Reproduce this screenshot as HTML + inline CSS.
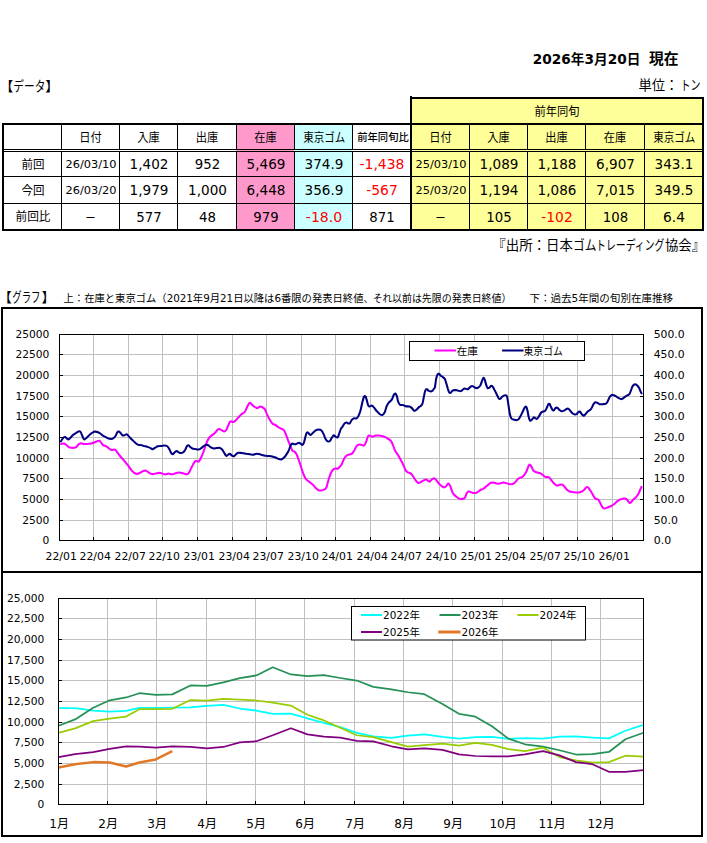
<!DOCTYPE html>
<html lang="ja"><head><meta charset="utf-8"><title>在庫データ</title>
<style>
html,body{margin:0;padding:0;background:#fff;}
svg{display:block;}
text{font-family:"DejaVu Sans","Liberation Sans","Noto Sans CJK JP",sans-serif;}
</style></head>
<body>
<svg role="img" aria-label="在庫データとグラフ" width="707" height="843" viewBox="0 0 707 843">
<rect width="707" height="843" fill="#fff"/>
<text y="63.6" font-size="13.33" font-weight="bold"><tspan x="532.8" textLength="112.4" lengthAdjust="spacingAndGlyphs">2026年3月20日 </tspan><tspan x="649" textLength="29.5" lengthAdjust="spacingAndGlyphs" font-size="14.67">現在</tspan></text>
<text y="89.5" font-size="13.33"><tspan x="638.4">単位：</tspan><tspan x="680.5" textLength="20" lengthAdjust="spacingAndGlyphs">トン</tspan></text>
<text y="90.5" font-size="13.33"><tspan x="0">【</tspan><tspan x="13.3" textLength="32" lengthAdjust="spacingAndGlyphs">データ</tspan><tspan x="45.3">】</tspan></text>
<text y="249.5" font-size="13.33"><tspan x="492.3" textLength="80.5" lengthAdjust="spacingAndGlyphs">『出所：日本</tspan><tspan x="573" textLength="23.5" lengthAdjust="spacingAndGlyphs">ゴム</tspan><tspan x="596" textLength="68.5" lengthAdjust="spacingAndGlyphs">トレーディング</tspan><tspan x="665">協会』</tspan></text>
<g id="data-table">
<rect x="410" y="97" width="294" height="134" fill="#FFFF99"/>
<rect x="236" y="123" width="58" height="108" fill="#FF99CC"/>
<rect x="294" y="123" width="58" height="108" fill="#CCFFFF"/>
<rect x="2" y="123" width="702" height="2" fill="#000"/>
<rect x="2" y="229" width="702" height="2" fill="#000"/>
<rect x="2" y="123" width="2" height="108" fill="#000"/>
<rect x="702" y="97" width="2" height="134" fill="#000"/>
<rect x="410" y="96" width="2" height="135" fill="#000"/>
<rect x="410" y="97" width="294" height="2" fill="#000"/>
<rect x="4" y="149" width="698" height="1" fill="#000"/>
<rect x="4" y="151" width="698" height="1" fill="#000"/>
<rect x="4" y="176" width="698" height="1" fill="#000"/>
<rect x="4" y="203" width="698" height="1" fill="#000"/>
<rect x="61" y="125" width="1" height="104" fill="#000"/>
<rect x="119" y="125" width="1" height="104" fill="#000"/>
<rect x="177" y="125" width="1" height="104" fill="#000"/>
<rect x="236" y="125" width="1" height="104" fill="#000"/>
<rect x="294" y="125" width="1" height="104" fill="#000"/>
<rect x="352" y="125" width="1" height="104" fill="#000"/>
<rect x="469" y="125" width="1" height="104" fill="#000"/>
<rect x="527" y="125" width="1" height="104" fill="#000"/>
<rect x="585" y="125" width="1" height="104" fill="#000"/>
<rect x="644" y="125" width="1" height="104" fill="#000"/>
<rect x="4" y="150" width="232" height="1" fill="#fff"/>
<rect x="236" y="150" width="58" height="1" fill="#FF99CC"/>
<rect x="294" y="150" width="58" height="1" fill="#CCFFFF"/>
<rect x="352" y="150" width="58" height="1" fill="#fff"/>
<rect x="412" y="150" width="290" height="1" fill="#FFFF99"/>
<text x="90.5" y="142" font-size="12" text-anchor="middle" textLength="22.5" lengthAdjust="spacingAndGlyphs">日付</text>
<text x="148.5" y="142" font-size="12" text-anchor="middle" textLength="22.5" lengthAdjust="spacingAndGlyphs">入庫</text>
<text x="207" y="142" font-size="12" text-anchor="middle" textLength="22.5" lengthAdjust="spacingAndGlyphs">出庫</text>
<text x="265.5" y="142" font-size="12" text-anchor="middle" textLength="22.5" lengthAdjust="spacingAndGlyphs">在庫</text>
<text x="324.3" y="142" font-size="12" text-anchor="middle" textLength="42" lengthAdjust="spacingAndGlyphs">東京ゴム</text>
<text x="383.0" y="141" font-size="10.67" text-anchor="middle" font-weight="500" textLength="51.5" lengthAdjust="spacingAndGlyphs">前年同旬比</text>
<text x="440.5" y="142" font-size="12" text-anchor="middle" textLength="22.5" lengthAdjust="spacingAndGlyphs">日付</text>
<text x="498.5" y="142" font-size="12" text-anchor="middle" textLength="22.5" lengthAdjust="spacingAndGlyphs">入庫</text>
<text x="556.5" y="142" font-size="12" text-anchor="middle" textLength="22.5" lengthAdjust="spacingAndGlyphs">出庫</text>
<text x="615" y="142" font-size="12" text-anchor="middle" textLength="22.5" lengthAdjust="spacingAndGlyphs">在庫</text>
<text x="674.3" y="142" font-size="12" text-anchor="middle" textLength="42" lengthAdjust="spacingAndGlyphs">東京ゴム</text>
<text x="557" y="115.5" font-size="12" text-anchor="middle" textLength="45" lengthAdjust="spacingAndGlyphs">前年同旬</text>
<text x="33.0" y="168.5" font-size="12" text-anchor="middle" textLength="23" lengthAdjust="spacingAndGlyphs">前回</text>
<text x="91.0" y="168" font-size="10.67" text-anchor="middle" textLength="51" lengthAdjust="spacingAndGlyphs">26/03/10</text>
<text x="149.0" y="169" font-size="13.33" text-anchor="middle" textLength="38.8" lengthAdjust="spacingAndGlyphs">1,402</text>
<text x="207.5" y="169" font-size="13.33" text-anchor="middle" textLength="25.4" lengthAdjust="spacingAndGlyphs">952</text>
<text x="266.0" y="169" font-size="13.33" text-anchor="middle" textLength="38.8" lengthAdjust="spacingAndGlyphs">5,469</text>
<text x="324.0" y="169" font-size="13.33" text-anchor="middle" textLength="38.8" lengthAdjust="spacingAndGlyphs">374.9</text>
<text x="382.0" y="169" font-size="13.33" text-anchor="middle" fill="#FF0000" textLength="44.8" lengthAdjust="spacingAndGlyphs">-1,438</text>
<text x="441.0" y="168" font-size="10.67" text-anchor="middle" textLength="51" lengthAdjust="spacingAndGlyphs">25/03/10</text>
<text x="499.0" y="169" font-size="13.33" text-anchor="middle" textLength="38.8" lengthAdjust="spacingAndGlyphs">1,089</text>
<text x="557.0" y="169" font-size="13.33" text-anchor="middle" textLength="38.8" lengthAdjust="spacingAndGlyphs">1,188</text>
<text x="615.5" y="169" font-size="13.33" text-anchor="middle" textLength="38.8" lengthAdjust="spacingAndGlyphs">6,907</text>
<text x="674.0" y="169" font-size="13.33" text-anchor="middle" textLength="38.8" lengthAdjust="spacingAndGlyphs">343.1</text>
<text x="33.0" y="194.5" font-size="12" text-anchor="middle" textLength="23" lengthAdjust="spacingAndGlyphs">今回</text>
<text x="91.0" y="194" font-size="10.67" text-anchor="middle" textLength="51" lengthAdjust="spacingAndGlyphs">26/03/20</text>
<text x="149.0" y="195" font-size="13.33" text-anchor="middle" textLength="38.8" lengthAdjust="spacingAndGlyphs">1,979</text>
<text x="207.5" y="195" font-size="13.33" text-anchor="middle" textLength="38.8" lengthAdjust="spacingAndGlyphs">1,000</text>
<text x="266.0" y="195" font-size="13.33" text-anchor="middle" textLength="38.8" lengthAdjust="spacingAndGlyphs">6,448</text>
<text x="324.0" y="195" font-size="13.33" text-anchor="middle" textLength="38.8" lengthAdjust="spacingAndGlyphs">356.9</text>
<text x="382.0" y="195" font-size="13.33" text-anchor="middle" fill="#FF0000" textLength="31.5" lengthAdjust="spacingAndGlyphs">-567</text>
<text x="441.0" y="194" font-size="10.67" text-anchor="middle" textLength="51" lengthAdjust="spacingAndGlyphs">25/03/20</text>
<text x="499.0" y="195" font-size="13.33" text-anchor="middle" textLength="38.8" lengthAdjust="spacingAndGlyphs">1,194</text>
<text x="557.0" y="195" font-size="13.33" text-anchor="middle" textLength="38.8" lengthAdjust="spacingAndGlyphs">1,086</text>
<text x="615.5" y="195" font-size="13.33" text-anchor="middle" textLength="38.8" lengthAdjust="spacingAndGlyphs">7,015</text>
<text x="674.0" y="195" font-size="13.33" text-anchor="middle" textLength="38.8" lengthAdjust="spacingAndGlyphs">349.5</text>
<text x="33.0" y="221.0" font-size="12" text-anchor="middle" textLength="35" lengthAdjust="spacingAndGlyphs">前回比</text>
<text x="90.5" y="220.5" font-size="12" text-anchor="middle" textLength="10" lengthAdjust="spacingAndGlyphs">–</text>
<text x="149.0" y="221.5" font-size="13.33" text-anchor="middle" textLength="25.4" lengthAdjust="spacingAndGlyphs">577</text>
<text x="207.5" y="221.5" font-size="13.33" text-anchor="middle" textLength="17.0" lengthAdjust="spacingAndGlyphs">48</text>
<text x="266.0" y="221.5" font-size="13.33" text-anchor="middle" textLength="25.4" lengthAdjust="spacingAndGlyphs">979</text>
<text x="324.0" y="221.5" font-size="13.33" text-anchor="middle" fill="#FF0000" textLength="36.3" lengthAdjust="spacingAndGlyphs">-18.0</text>
<text x="382.0" y="221.5" font-size="13.33" text-anchor="middle" textLength="25.4" lengthAdjust="spacingAndGlyphs">871</text>
<text x="440.5" y="220.5" font-size="12" text-anchor="middle" textLength="10" lengthAdjust="spacingAndGlyphs">–</text>
<text x="499.0" y="221.5" font-size="13.33" text-anchor="middle" textLength="25.4" lengthAdjust="spacingAndGlyphs">105</text>
<text x="557.0" y="221.5" font-size="13.33" text-anchor="middle" fill="#FF0000" textLength="31.5" lengthAdjust="spacingAndGlyphs">-102</text>
<text x="615.5" y="221.5" font-size="13.33" text-anchor="middle" textLength="25.4" lengthAdjust="spacingAndGlyphs">108</text>
<text x="674.0" y="221.5" font-size="13.33" text-anchor="middle" textLength="21.8" lengthAdjust="spacingAndGlyphs">6.4</text>
</g>
<text y="302" font-size="13.33"><tspan x="-1.5">【</tspan><tspan x="12.3" textLength="28.2" lengthAdjust="spacingAndGlyphs">グラフ</tspan><tspan x="41.5">】</tspan></text>
<text y="301.5" font-size="10.67"><tspan x="63.5" textLength="300" lengthAdjust="spacingAndGlyphs">上：在庫と東京ゴム（2021年9月21日以降は6番限の発表日終値</tspan><tspan x="363.5" textLength="28.5" lengthAdjust="spacingAndGlyphs">、それ</tspan><tspan x="392" textLength="119.5" lengthAdjust="spacingAndGlyphs">以前は先限の発表日終値）</tspan></text>
<text x="529.5" y="301.5" font-size="10.67" text-anchor="start" textLength="143.5" lengthAdjust="spacingAndGlyphs">下：過去5年間の旬別在庫推移</text>
<rect x="1" y="307" width="702" height="2" fill="#000"/>
<rect x="1" y="835" width="702" height="2" fill="#000"/>
<rect x="1" y="307" width="2" height="530" fill="#000"/>
<rect x="701" y="307" width="2" height="530" fill="#000"/>
<rect x="1" y="571" width="702" height="2" fill="#000"/>
<g id="chart-top">
<rect x="59.5" y="354" width="584.0" height="1" fill="#C0C0C0"/>
<rect x="59.5" y="375" width="584.0" height="1" fill="#C0C0C0"/>
<rect x="59.5" y="396" width="584.0" height="1" fill="#C0C0C0"/>
<rect x="59.5" y="416" width="584.0" height="1" fill="#C0C0C0"/>
<rect x="59.5" y="437" width="584.0" height="1" fill="#C0C0C0"/>
<rect x="59.5" y="458" width="584.0" height="1" fill="#C0C0C0"/>
<rect x="59.5" y="478" width="584.0" height="1" fill="#C0C0C0"/>
<rect x="59.5" y="499" width="584.0" height="1" fill="#C0C0C0"/>
<rect x="59.5" y="520" width="584.0" height="1" fill="#C0C0C0"/>
<rect x="93" y="334.5" width="1" height="206.0" fill="#C0C0C0"/>
<rect x="128" y="334.5" width="1" height="206.0" fill="#C0C0C0"/>
<rect x="162" y="334.5" width="1" height="206.0" fill="#C0C0C0"/>
<rect x="197" y="334.5" width="1" height="206.0" fill="#C0C0C0"/>
<rect x="232" y="334.5" width="1" height="206.0" fill="#C0C0C0"/>
<rect x="266" y="334.5" width="1" height="206.0" fill="#C0C0C0"/>
<rect x="301" y="334.5" width="1" height="206.0" fill="#C0C0C0"/>
<rect x="335" y="334.5" width="1" height="206.0" fill="#C0C0C0"/>
<rect x="370" y="334.5" width="1" height="206.0" fill="#C0C0C0"/>
<rect x="404" y="334.5" width="1" height="206.0" fill="#C0C0C0"/>
<rect x="439" y="334.5" width="1" height="206.0" fill="#C0C0C0"/>
<rect x="474" y="334.5" width="1" height="206.0" fill="#C0C0C0"/>
<rect x="508" y="334.5" width="1" height="206.0" fill="#C0C0C0"/>
<rect x="543" y="334.5" width="1" height="206.0" fill="#C0C0C0"/>
<rect x="577" y="334.5" width="1" height="206.0" fill="#C0C0C0"/>
<rect x="612" y="334.5" width="1" height="206.0" fill="#C0C0C0"/>
<path d="M60.94,443.95C61.4,443.9 62.7,443.4 63.5,443.5C64.3,443.6 64.8,443.8 65.6,444.4C66.4,444.9 67.5,446.2 68.4,446.8C69.4,447.3 70.3,447.6 71.3,447.8C72.2,447.9 73.3,447.9 74.1,447.8C74.9,447.7 75.5,447.6 76.2,447.1C76.9,446.5 77.6,445.3 78.3,444.6C79.0,444.0 79.6,443.4 80.5,443.2C81.3,443.1 82.3,443.8 83.3,443.9C84.2,444.1 85.2,444.0 86.1,443.9C87.1,443.9 88.0,443.8 89.0,443.7C89.9,443.6 90.8,443.6 91.8,443.4C92.7,443.1 93.7,442.6 94.6,442.2C95.5,441.9 96.6,441.4 97.4,441.1C98.3,440.9 99.0,440.5 99.5,440.7C100.1,440.9 100.4,441.8 101.0,442.5C101.6,443.3 102.3,444.5 103.1,445.1C103.9,445.7 105.0,445.6 105.9,446.1C106.9,446.6 107.8,447.5 108.8,448.2C109.7,448.9 110.5,449.8 111.6,450.0C112.6,450.3 114.2,449.2 115.1,449.6C116.1,450.0 116.4,451.4 117.2,452.4C118.1,453.5 119.1,454.8 120.1,456.0C121.0,457.1 121.9,458.1 122.9,459.2C123.8,460.3 124.8,461.5 125.7,462.6C126.7,463.8 127.6,464.9 128.6,466.1C129.5,467.4 130.4,469.0 131.4,470.1C132.3,471.2 133.3,472.3 134.2,472.9C135.2,473.6 136.1,473.9 137.0,473.9C138.0,473.9 138.9,473.4 139.9,472.9C140.8,472.5 141.7,471.6 142.7,471.2C143.6,470.8 144.6,470.4 145.5,470.5C146.5,470.7 147.4,471.7 148.3,472.2C149.3,472.8 150.4,473.6 151.2,473.9C151.9,474.2 152.1,474.2 152.8,474.1C153.6,474.1 154.5,473.8 155.7,473.6C156.8,473.3 158.7,472.8 159.9,472.8C161.1,472.9 161.8,473.6 162.7,473.8C163.7,474.1 164.6,474.4 165.6,474.4C166.5,474.4 167.2,473.6 168.4,473.6C169.6,473.5 171.3,474.4 172.6,474.3C173.9,474.2 175.0,473.3 176.2,473.0C177.3,472.7 178.5,472.5 179.7,472.6C180.9,472.6 182.1,473.0 183.2,473.3C184.4,473.6 185.8,474.3 186.8,474.3C187.7,474.2 188.2,473.8 188.9,472.8C189.6,471.9 190.3,470.0 191.0,468.6C191.7,467.2 192.4,465.6 193.1,464.4C193.8,463.1 194.6,461.6 195.3,461.1C196.0,460.6 196.8,461.2 197.4,461.2C198.0,461.3 198.2,462.1 198.8,461.5C199.4,461.0 200.2,459.4 200.9,458.0C201.6,456.6 202.3,454.9 203.0,453.0C203.7,451.2 204.5,448.7 205.2,446.7C205.9,444.7 206.6,442.6 207.3,441.0C208.0,439.5 208.6,438.5 209.4,437.5C210.2,436.5 211.3,435.9 212.2,435.1C213.2,434.3 214.1,433.8 215.1,432.8C216.0,431.9 217.2,430.1 217.9,429.4C218.6,428.8 218.7,428.9 219.3,429.0C219.9,429.1 220.6,429.7 221.4,430.1C222.3,430.5 223.4,431.5 224.3,431.4C225.1,431.3 225.7,430.8 226.4,429.7C227.1,428.6 227.9,426.0 228.5,424.8C229.1,423.5 229.4,422.5 229.9,421.9C230.4,421.3 230.7,421.2 231.3,421.2C231.9,421.2 232.6,422.2 233.4,421.9C234.3,421.7 235.3,420.7 236.3,419.8C237.2,418.9 238.2,417.7 239.1,416.7C240.1,415.7 241.0,414.6 241.9,413.9C242.9,413.1 243.9,413.2 244.8,412.0C245.6,410.9 246.4,408.5 247.1,407.0C247.9,405.5 248.7,403.8 249.2,403.2C249.8,402.6 250.1,402.8 250.7,403.2C251.2,403.6 252.0,404.9 252.8,405.6C253.6,406.3 254.8,407.1 255.6,407.4C256.4,407.8 257.0,408.2 257.7,408.0C258.4,407.9 259.1,406.8 259.9,406.6C260.6,406.4 261.1,406.6 262.0,407.0C262.8,407.4 264.0,408.0 264.8,409.1C265.6,410.3 266.1,412.3 266.9,414.1C267.7,415.9 268.8,418.1 269.8,419.8C270.7,421.4 271.6,422.8 272.6,423.7C273.5,424.6 274.3,424.4 275.4,425.0C276.5,425.6 277.9,426.9 278.9,427.5C280.0,428.2 281.0,428.5 281.8,428.9C282.6,429.4 283.2,429.1 283.9,430.1C284.6,431.0 285.3,432.9 286.0,434.6C286.7,436.3 287.4,438.4 288.1,440.3C288.8,442.1 289.6,444.2 290.3,445.9C291.0,447.6 291.7,449.6 292.4,450.6C293.1,451.5 293.8,450.9 294.5,451.6C295.2,452.2 295.9,453.0 296.6,454.4C297.3,455.8 298.0,458.1 298.8,460.1C299.5,462.1 300.2,464.3 300.9,466.4C301.6,468.6 302.3,470.9 303.0,472.8C303.7,474.7 304.4,476.5 305.1,477.7C305.8,479.0 306.4,479.5 307.2,480.3C308.1,481.1 309.1,481.7 310.1,482.4C311.0,483.2 311.9,483.9 312.9,484.8C313.8,485.7 314.8,487.0 315.7,487.9C316.7,488.8 317.6,489.8 318.6,490.2C319.5,490.6 320.4,490.6 321.4,490.5C322.3,490.4 323.4,490.0 324.2,489.5C325.0,489.0 325.7,488.8 326.3,487.6C326.9,486.5 327.1,484.7 327.7,482.7C328.3,480.7 329.2,477.6 329.9,475.6C330.6,473.7 331.3,472.2 332.0,471.1C332.7,470.0 333.4,469.3 334.1,468.8C334.8,468.4 335.5,468.6 336.2,468.6C336.9,468.5 337.5,468.9 338.4,468.3C339.2,467.7 340.6,465.8 341.2,465.0C341.8,464.2 341.6,464.6 342.1,463.5C342.6,462.4 343.5,459.8 344.2,458.6C344.9,457.3 345.5,456.4 346.4,455.7C347.2,455.1 348.2,454.9 349.2,454.6C350.1,454.2 351.2,454.2 352.0,453.6C352.8,453.0 353.4,451.9 354.1,450.8C354.8,449.6 355.6,447.5 356.3,446.5C357.0,445.5 357.6,445.0 358.4,444.7C359.2,444.4 360.3,444.5 361.2,444.7C362.2,444.8 363.2,446.1 364.1,445.5C364.9,445.0 365.6,443.0 366.2,441.6C366.8,440.2 367.1,438.1 367.6,437.1C368.1,436.0 368.5,435.7 369.0,435.5C369.5,435.3 369.8,435.7 370.4,435.9C371.0,436.1 371.7,436.7 372.5,436.6C373.4,436.6 374.4,435.7 375.4,435.5C376.3,435.3 377.1,435.4 378.2,435.5C379.3,435.6 380.6,435.7 381.7,435.9C382.9,436.2 384.2,436.6 385.3,437.1C386.3,437.5 387.1,438.1 388.1,438.8C389.0,439.4 390.1,439.8 390.9,440.9C391.7,441.9 392.3,443.5 393.0,445.1C393.7,446.8 394.3,449.1 395.2,450.8C396.0,452.4 397.0,453.5 398.0,455.0C398.9,456.5 399.9,458.2 400.8,460.0C401.8,461.7 402.8,463.9 403.6,465.6C404.5,467.4 405.1,469.5 405.8,470.6C406.5,471.7 407.2,471.9 407.9,472.3C408.6,472.7 409.3,472.6 410.0,473.0C410.7,473.4 411.4,473.9 412.1,474.8C412.8,475.7 413.6,477.3 414.3,478.4C415.0,479.4 415.7,480.4 416.4,481.2C417.1,481.9 417.8,482.7 418.5,482.9C419.2,483.0 419.8,482.6 420.6,482.2C421.4,481.8 422.5,480.9 423.4,480.5C424.4,480.0 425.3,479.3 426.3,479.5C427.2,479.7 428.3,481.5 429.1,481.6C429.9,481.7 430.5,480.6 431.2,480.1C431.9,479.5 432.7,478.6 433.4,478.4C434.0,478.1 434.4,478.2 435.0,478.7C435.6,479.2 436.4,480.2 437.1,481.1C437.8,482.0 438.4,483.1 439.2,483.9C440.1,484.8 441.2,485.9 442.1,486.5C443.0,487.0 443.9,487.3 444.6,487.2C445.3,487.1 445.8,486.6 446.3,486.1C446.8,485.5 447.3,484.4 447.7,483.9C448.2,483.5 448.4,483.3 448.9,483.7C449.3,484.0 449.8,485.0 450.3,486.1C450.8,487.2 451.2,489.0 451.7,490.3C452.2,491.6 452.8,492.9 453.4,493.9C454.0,494.8 454.7,495.3 455.5,496.0C456.3,496.7 457.4,497.6 458.3,498.1C459.3,498.6 460.2,499.0 461.2,499.1C462.1,499.1 463.3,498.9 464.0,498.5C464.7,498.1 464.9,497.6 465.4,496.7C465.9,495.8 466.3,494.0 466.8,493.1C467.4,492.3 468.1,491.7 468.7,491.4C469.2,491.2 469.6,491.6 470.4,491.9C471.1,492.1 472.2,492.7 473.2,492.9C474.1,493.0 475.2,493.0 476.0,492.9C476.8,492.7 477.4,492.2 478.1,491.7C478.8,491.3 479.4,490.5 480.3,490.0C481.1,489.6 482.1,489.4 483.1,488.9C484.0,488.4 485.0,487.5 485.9,486.8C486.9,486.0 487.9,485.0 488.8,484.4C489.6,483.7 490.2,483.1 490.9,482.8C491.6,482.5 492.2,482.5 493.0,482.5C493.8,482.6 494.9,483.1 495.8,483.2C496.8,483.4 497.7,483.7 498.6,483.7C499.6,483.6 500.7,483.1 501.5,483.0C502.3,482.8 502.9,482.5 503.6,482.5C504.3,482.5 504.9,482.7 505.7,483.0C506.5,483.2 507.6,483.7 508.6,483.9C509.5,484.2 510.6,484.3 511.4,484.2C512.2,484.2 512.8,484.1 513.5,483.7C514.2,483.3 514.9,482.6 515.6,481.8C516.3,481.1 517.0,479.9 517.7,479.3C518.4,478.6 519.2,478.2 519.9,477.9C520.6,477.5 521.3,477.6 522.0,477.2C522.7,476.7 523.4,476.1 524.1,475.2C524.8,474.3 525.6,473.1 526.2,471.9C526.8,470.8 527.2,469.6 527.6,468.4C528.1,467.2 528.7,465.4 529.1,464.9C529.5,464.3 529.6,464.5 530.0,464.9C530.4,465.2 531.1,465.9 531.7,466.9C532.3,467.8 532.7,469.8 533.4,470.6C534.1,471.5 535.1,471.6 535.9,472.0C536.8,472.3 537.6,472.5 538.5,472.8C539.3,473.1 540.2,473.2 541.0,473.7C541.9,474.2 542.7,475.1 543.6,475.7C544.4,476.3 545.3,476.8 546.1,477.1C547.0,477.3 547.9,476.7 548.7,477.1C549.4,477.4 550.0,478.4 550.7,479.3C551.4,480.1 552.1,481.3 552.9,482.2C553.7,483.1 554.8,484.1 555.5,484.7C556.2,485.3 556.5,485.6 557.2,485.6C557.9,485.6 558.9,484.9 559.7,484.7C560.6,484.6 561.5,484.4 562.3,484.7C563.0,485.0 563.6,485.6 564.3,486.4C565.0,487.2 565.7,488.5 566.5,489.3C567.3,490.1 568.1,490.7 569.0,491.2C570.0,491.6 571.3,491.8 572.4,492.0C573.6,492.2 574.7,492.3 575.8,492.4C577.0,492.4 578.2,492.5 579.2,492.4C580.2,492.2 580.9,491.9 581.8,491.5C582.6,491.1 583.6,490.4 584.3,489.8C585.0,489.2 585.4,488.0 586.0,487.6C586.7,487.2 587.4,486.9 588.1,487.3C588.7,487.6 589.1,488.8 589.8,489.8C590.4,490.8 591.2,492.0 592.0,493.2C592.7,494.4 593.5,496.1 594.2,497.1C594.9,498.1 595.5,498.7 596.2,499.1C596.9,499.5 597.6,498.9 598.2,499.5C598.9,500.0 599.3,501.3 600.0,502.5C600.6,503.8 601.5,505.8 602.2,506.8C602.9,507.8 603.3,508.3 604.2,508.5C605.0,508.6 606.2,508.0 607.2,507.6C608.3,507.3 609.5,506.8 610.6,506.3C611.8,505.7 612.9,505.1 614.0,504.2C615.2,503.4 616.3,502.0 617.4,501.2C618.6,500.3 619.8,499.6 620.8,499.1C621.8,498.7 622.5,498.7 623.4,498.6C624.2,498.6 625.2,498.5 625.9,498.8C626.6,499.1 627.0,499.8 627.6,500.5C628.2,501.2 629.0,502.7 629.7,502.9C630.3,503.1 630.9,502.3 631.5,501.7C632.2,501.1 632.8,499.9 633.6,499.1C634.3,498.4 635.3,498.0 636.1,497.1C636.9,496.3 637.7,495.2 638.3,494.1C639.0,492.9 639.5,491.3 640.0,490.1C640.6,489.0 641.3,487.5 641.5,486.9" fill="none" stroke="#FF00FF" stroke-width="2.05" stroke-linejoin="round" stroke-linecap="round"/>
<path d="M60.94,441.4C61.2,440.9 62.2,439.0 62.8,438.3C63.4,437.5 64.0,436.9 64.6,436.9C65.2,436.8 65.7,437.6 66.3,438.0C67.0,438.4 67.7,439.5 68.4,439.4C69.1,439.3 69.9,438.3 70.6,437.6C71.3,436.9 71.9,435.9 72.7,435.2C73.5,434.5 74.6,433.9 75.5,433.3C76.5,432.8 77.6,431.9 78.3,431.6C79.1,431.3 79.6,431.1 80.2,431.5C80.7,431.9 81.1,432.9 81.6,434.1C82.1,435.2 82.8,437.4 83.3,438.3C83.8,439.2 84.1,439.5 84.7,439.4C85.3,439.3 86.0,438.4 86.8,437.6C87.6,436.8 88.7,435.6 89.7,434.8C90.6,433.9 91.5,433.1 92.5,432.6C93.4,432.1 94.4,431.7 95.3,431.6C96.3,431.6 97.2,431.8 98.1,432.2C99.1,432.6 100.0,433.4 101.0,434.1C101.9,434.7 102.7,435.5 103.8,436.2C104.9,436.8 106.2,437.5 107.3,438.0C108.5,438.5 109.8,439.0 110.9,439.0C111.9,439.0 112.9,438.6 113.7,438.0C114.5,437.4 115.2,436.4 115.8,435.5C116.4,434.5 116.7,433.0 117.2,432.4C117.7,431.7 118.3,431.3 118.9,431.5C119.5,431.7 120.2,432.7 120.8,433.3C121.4,434.0 122.0,435.2 122.6,435.5C123.2,435.8 124.0,435.4 124.6,435.2C125.2,435.0 125.9,434.3 126.4,434.3C127.0,434.3 127.3,434.6 127.8,435.2C128.4,435.7 129.1,436.7 130.0,437.6C130.8,438.5 131.8,439.5 132.8,440.4C133.7,441.3 134.8,442.3 135.6,443.0C136.4,443.7 136.9,444.3 137.7,444.6C138.6,445.0 139.5,444.8 140.6,445.1C141.6,445.3 142.8,445.7 144.1,446.1C145.4,446.4 147.2,446.7 148.3,447.1C149.5,447.5 150.4,448.1 151.2,448.5C151.9,448.8 152.1,449.4 152.8,449.2C153.6,449.0 154.8,447.9 155.7,447.4C156.5,446.9 156.8,446.5 157.8,446.2C158.7,446.0 160.3,446.1 161.3,446.0C162.4,445.8 163.2,445.4 164.1,445.4C165.1,445.4 166.1,445.4 167.0,446.0C167.8,446.5 168.4,447.6 169.1,448.8C169.8,450.0 170.6,452.1 171.2,453.0C171.9,453.9 172.3,454.3 172.9,454.2C173.5,454.1 174.1,452.9 174.8,452.3C175.4,451.8 176.0,451.0 176.6,450.9C177.2,450.9 177.7,451.7 178.3,452.1C178.9,452.4 179.6,453.0 180.4,453.0C181.2,453.1 182.4,452.9 183.2,452.3C184.1,451.7 184.7,450.6 185.4,449.5C186.0,448.4 186.5,446.7 187.1,446.0C187.6,445.3 187.9,445.1 188.5,445.3C189.0,445.4 189.7,446.4 190.3,447.0C191.0,447.5 191.6,448.2 192.4,448.5C193.3,448.9 194.2,448.9 195.3,449.1C196.3,449.2 197.7,449.7 198.8,449.5C199.9,449.3 200.7,448.5 201.6,447.8C202.6,447.1 203.6,446.1 204.5,445.5C205.3,445.0 205.9,444.7 206.6,444.7C207.3,444.7 208.0,445.1 208.7,445.5C209.4,446.0 210.0,446.9 210.8,447.4C211.6,447.9 212.7,448.3 213.7,448.4C214.6,448.5 215.5,448.2 216.5,448.1C217.4,448.0 218.4,447.6 219.3,447.8C220.3,448.0 221.3,448.6 222.1,449.5C223.0,450.4 223.6,452.0 224.3,453.0C225.0,454.1 225.7,455.6 226.4,455.9C227.1,456.1 227.9,454.8 228.5,454.5C229.1,454.1 229.3,453.6 229.9,453.8C230.5,453.9 231.3,455.2 232.0,455.6C232.7,456.0 233.5,456.4 234.2,456.1C234.9,455.9 235.6,454.6 236.3,454.0C237.0,453.5 237.5,452.9 238.4,452.8C239.3,452.6 240.6,452.9 241.9,453.0C243.2,453.2 245.1,453.6 246.2,453.8C247.3,453.9 247.4,454.0 248.5,454.1C249.6,454.3 251.4,454.8 252.8,454.7C254.2,454.6 255.6,453.7 257.0,453.7C258.4,453.7 259.7,454.3 261.3,454.7C262.8,455.0 264.6,455.6 266.2,455.8C267.9,456.1 269.6,456.0 271.2,456.2C272.7,456.5 274.1,457.0 275.4,457.5C276.7,458.0 278.0,458.8 278.9,459.1C279.9,459.4 280.4,459.5 281.1,459.4C281.8,459.2 282.4,458.9 283.2,458.2C284.0,457.5 285.1,456.5 286.0,455.1C287.0,453.8 288.1,451.7 288.9,450.2C289.6,448.6 290.0,446.7 290.5,445.6C291.1,444.5 291.7,443.7 292.4,443.5C293.0,443.3 293.8,444.2 294.5,444.2C295.2,444.3 295.9,444.0 296.6,443.8C297.3,443.6 298.0,442.8 298.8,442.8C299.5,442.8 300.3,443.4 300.9,443.8C301.5,444.2 301.8,445.0 302.3,444.9C302.8,444.8 303.2,444.2 303.7,443.1C304.2,442.0 304.6,439.8 305.1,438.1C305.6,436.5 306.1,434.1 306.5,433.2C307.0,432.2 307.5,432.3 307.9,432.5C308.4,432.6 308.9,433.8 309.4,434.2C309.8,434.6 310.2,435.1 310.8,434.9C311.4,434.7 312.1,433.7 312.9,432.9C313.7,432.2 314.8,431.0 315.7,430.4C316.7,429.8 317.6,429.4 318.6,429.4C319.5,429.4 320.6,429.6 321.4,430.4C322.2,431.1 322.8,432.4 323.5,433.9C324.2,435.4 324.9,437.9 325.6,439.1C326.3,440.4 327.0,441.1 327.7,441.4C328.4,441.7 329.2,441.6 329.9,441.0C330.6,440.3 331.3,438.4 332.0,437.4C332.6,436.5 333.2,435.4 333.8,435.3C334.4,435.2 334.9,436.4 335.5,436.7C336.2,437.1 337.0,437.9 337.6,437.4C338.2,437.0 338.5,435.4 339.1,433.9C339.6,432.4 340.7,429.3 341.2,428.2C341.7,427.2 341.6,428.2 342.1,427.4C342.6,426.7 343.5,424.7 344.2,423.9C344.9,423.1 345.7,422.6 346.4,422.5C347.1,422.4 347.9,423.4 348.5,423.5C349.1,423.6 349.3,423.8 349.9,423.2C350.5,422.6 351.3,420.5 352.0,419.6C352.7,418.8 353.4,418.4 354.1,418.2C354.8,418.1 355.6,418.9 356.3,418.5C357.0,418.2 357.7,417.5 358.4,416.1C359.1,414.8 359.8,412.9 360.5,410.5C361.2,408.0 362.0,403.6 362.6,401.3C363.2,399.0 363.6,397.4 364.1,396.6C364.5,395.8 365.0,395.7 365.5,396.3C365.9,397.0 366.4,399.0 366.9,400.6C367.3,402.1 367.8,404.5 368.3,405.5C368.8,406.5 369.1,406.5 369.7,406.5C370.3,406.5 371.1,405.4 371.8,405.5C372.5,405.7 373.1,406.4 373.9,407.4C374.8,408.3 375.8,410.1 376.8,411.2C377.7,412.3 378.7,413.4 379.6,414.0C380.5,414.6 381.6,415.2 382.4,415.0C383.3,414.8 383.8,414.0 384.6,412.6C385.3,411.1 386.0,407.9 386.7,406.2C387.4,404.6 388.0,403.7 388.8,402.7C389.6,401.6 390.8,401.1 391.6,399.9C392.5,398.6 393.1,396.0 393.8,394.9C394.4,393.8 394.9,393.3 395.4,393.5C396.0,393.7 396.4,394.9 396.9,396.3C397.3,397.7 397.7,400.6 398.3,402.0C398.8,403.4 399.3,404.3 400.1,404.8C400.9,405.3 402.0,404.8 402.9,405.1C403.9,405.3 404.7,406.0 405.8,406.2C406.8,406.5 408.4,406.3 409.3,406.5C410.3,406.7 410.7,407.0 411.4,407.6C412.1,408.2 413.0,409.7 413.6,410.2C414.1,410.7 414.4,410.9 415.0,410.7C415.5,410.6 416.4,409.7 417.1,409.1C417.8,408.4 418.5,407.5 419.2,406.9C419.9,406.3 420.7,406.2 421.3,405.5C421.9,404.8 422.3,404.4 422.7,402.7C423.2,400.9 423.7,397.0 424.2,394.9C424.6,392.8 425.1,390.9 425.6,389.9C426.0,389.0 426.5,389.1 427.0,389.2C427.5,389.4 427.8,390.3 428.4,390.7C429.0,391.0 429.8,391.4 430.5,391.4C431.2,391.4 432.0,391.1 432.6,390.7C433.2,390.2 433.7,389.2 434.1,388.5C434.5,387.9 434.7,388.5 435.0,386.9C435.3,385.4 435.7,381.2 436.1,379.1C436.6,377.1 437.1,375.5 437.6,374.6C438.0,373.7 438.4,373.6 439.0,373.8C439.5,373.9 440.0,375.1 440.7,375.6C441.3,376.2 442.1,376.4 442.8,377.0C443.5,377.6 444.3,378.1 444.9,379.1C445.5,380.2 445.8,381.9 446.3,383.4C446.8,384.9 447.3,386.9 447.7,388.3C448.2,389.8 448.7,391.5 449.1,392.3C449.6,393.1 450.0,393.1 450.6,392.9C451.1,392.6 451.6,391.4 452.3,390.9C453.0,390.4 453.9,390.1 454.8,390.0C455.7,390.0 456.7,390.3 457.6,390.5C458.6,390.6 459.6,391.3 460.5,391.2C461.3,391.1 461.9,390.2 462.6,389.8C463.3,389.3 464.0,388.7 464.7,388.6C465.4,388.5 466.2,389.0 466.8,389.1C467.4,389.1 467.6,389.4 468.2,389.1C468.8,388.7 469.7,387.4 470.4,386.9C471.0,386.4 471.6,385.9 472.2,385.9C472.8,385.9 473.3,386.6 473.9,386.9C474.5,387.3 475.3,387.9 476.0,388.1C476.7,388.2 477.4,388.1 478.1,387.6C478.8,387.2 479.6,386.7 480.3,385.5C480.9,384.3 481.6,381.9 482.1,380.6C482.6,379.3 483.1,377.8 483.5,377.7C484.0,377.6 484.3,378.7 484.8,379.9C485.2,381.0 485.7,383.4 486.2,384.8C486.7,386.2 487.1,387.6 487.6,388.1C488.2,388.5 488.9,388.0 489.5,387.6C490.0,387.3 490.4,386.2 490.9,385.9C491.3,385.7 491.7,385.6 492.3,386.2C492.9,386.9 493.7,388.5 494.4,389.8C495.1,391.0 495.8,392.6 496.5,394.0C497.2,395.4 498.1,397.4 498.6,398.2C499.2,399.1 499.5,399.2 500.1,398.9C500.6,398.7 501.5,397.4 502.2,396.8C502.9,396.2 503.6,395.6 504.3,395.4C505.0,395.2 505.9,394.9 506.4,395.4C506.9,395.9 507.1,396.5 507.4,398.2C507.8,400.0 508.1,403.3 508.6,406.0C509.0,408.7 509.5,412.4 510.0,414.5C510.4,416.6 510.8,417.6 511.4,418.5C512.0,419.3 512.7,419.2 513.5,419.5C514.3,419.7 515.5,420.2 516.3,420.2C517.2,420.1 517.7,419.9 518.5,419.2C519.2,418.5 519.9,417.2 520.6,415.9C521.3,414.7 522.0,413.1 522.7,411.7C523.4,410.3 524.2,408.3 524.8,407.4C525.4,406.6 525.8,406.3 526.2,406.7C526.7,407.2 527.0,408.6 527.4,410.3C527.8,411.9 528.2,414.9 528.6,416.6C529.1,418.4 529.5,420.1 530.0,420.6C530.6,421.1 531.4,420.0 532.0,419.5C532.7,419.0 533.2,417.6 533.7,417.4C534.3,417.2 534.9,418.1 535.4,418.3C536.0,418.5 536.6,419.1 537.1,418.8C537.7,418.5 538.2,417.6 538.8,416.6C539.5,415.6 540.3,413.5 541.0,412.7C541.8,411.8 542.5,411.8 543.2,411.5C543.9,411.2 544.7,411.4 545.3,410.6C545.9,409.9 546.5,408.3 547.0,407.3C547.5,406.2 547.9,404.8 548.3,404.2C548.8,403.6 549.1,403.5 549.5,403.9C549.9,404.2 550.2,405.4 550.7,406.4C551.2,407.4 551.9,409.2 552.4,409.8C552.9,410.4 553.3,410.6 553.8,410.3C554.3,410.0 554.9,408.6 555.5,408.1C556.0,407.7 556.5,407.3 557.2,407.6C557.8,407.9 558.5,409.2 559.2,409.8C559.9,410.4 560.6,411.0 561.4,411.2C562.2,411.3 563.1,411.0 564.0,410.6C564.8,410.3 565.8,409.3 566.5,409.0C567.2,408.6 567.6,408.4 568.2,408.6C568.8,408.8 569.2,409.5 569.9,410.3C570.6,411.1 571.6,412.5 572.4,413.2C573.3,413.9 574.3,414.2 575.0,414.4C575.7,414.5 576.1,414.4 576.7,414.1C577.3,413.7 577.9,412.4 578.4,412.0C578.9,411.6 579.2,411.2 579.8,411.5C580.3,411.8 580.8,413.0 581.4,413.7C582.1,414.4 582.9,415.6 583.5,415.8C584.1,415.9 584.5,415.1 585.2,414.4C585.9,413.7 586.9,412.3 587.7,411.5C588.6,410.7 589.6,410.5 590.3,409.8C591.0,409.1 591.4,408.2 592.0,407.3C592.5,406.3 593.1,404.7 593.7,403.9C594.2,403.0 594.8,402.4 595.4,402.2C595.9,402.0 596.4,402.3 597.1,402.7C597.8,403.0 598.8,403.9 599.6,404.2C600.5,404.5 601.2,404.3 602.2,404.2C603.1,404.1 604.7,404.2 605.5,403.9C606.4,403.5 606.7,403.1 607.2,402.2C607.8,401.3 608.4,399.5 609.0,398.4C609.5,397.4 609.9,396.3 610.6,395.7C611.4,395.1 612.3,394.8 613.2,394.9C614.0,394.9 614.9,395.7 615.7,396.2C616.6,396.7 617.3,397.4 618.3,397.9C619.3,398.4 620.7,399.2 621.7,399.1C622.7,399.0 623.4,398.0 624.2,397.4C625.1,396.8 625.9,396.2 626.8,395.7C627.6,395.2 628.6,395.1 629.3,394.2C630.0,393.3 630.5,391.6 631.0,390.3C631.6,388.9 632.1,387.0 632.7,386.0C633.4,385.1 634.2,384.5 634.9,384.3C635.6,384.2 636.3,384.6 637.0,385.2C637.6,385.8 638.4,386.7 639.0,387.7C639.6,388.7 639.9,390.2 640.4,391.1C640.8,392.1 641.3,393.0 641.5,393.3" fill="none" stroke="#000080" stroke-width="2.05" stroke-linejoin="round" stroke-linecap="round"/>
<rect x="59.0" y="334.0" width="585.0" height="1" fill="#000"/>
<rect x="59.0" y="540.0" width="585.0" height="1" fill="#000"/>
<rect x="59.0" y="334.0" width="1" height="207.0" fill="#000"/>
<rect x="643.0" y="334.0" width="1" height="207.0" fill="#000"/>
<rect x="59.5" y="354" width="3.5" height="1" fill="#000"/>
<rect x="640.0" y="354" width="3.5" height="1" fill="#000"/>
<rect x="59.5" y="375" width="3.5" height="1" fill="#000"/>
<rect x="640.0" y="375" width="3.5" height="1" fill="#000"/>
<rect x="59.5" y="396" width="3.5" height="1" fill="#000"/>
<rect x="640.0" y="396" width="3.5" height="1" fill="#000"/>
<rect x="59.5" y="416" width="3.5" height="1" fill="#000"/>
<rect x="640.0" y="416" width="3.5" height="1" fill="#000"/>
<rect x="59.5" y="437" width="3.5" height="1" fill="#000"/>
<rect x="640.0" y="437" width="3.5" height="1" fill="#000"/>
<rect x="59.5" y="458" width="3.5" height="1" fill="#000"/>
<rect x="640.0" y="458" width="3.5" height="1" fill="#000"/>
<rect x="59.5" y="478" width="3.5" height="1" fill="#000"/>
<rect x="640.0" y="478" width="3.5" height="1" fill="#000"/>
<rect x="59.5" y="499" width="3.5" height="1" fill="#000"/>
<rect x="640.0" y="499" width="3.5" height="1" fill="#000"/>
<rect x="59.5" y="520" width="3.5" height="1" fill="#000"/>
<rect x="640.0" y="520" width="3.5" height="1" fill="#000"/>
<rect x="93" y="537.0" width="1" height="3.5" fill="#000"/>
<rect x="128" y="537.0" width="1" height="3.5" fill="#000"/>
<rect x="162" y="537.0" width="1" height="3.5" fill="#000"/>
<rect x="197" y="537.0" width="1" height="3.5" fill="#000"/>
<rect x="232" y="537.0" width="1" height="3.5" fill="#000"/>
<rect x="266" y="537.0" width="1" height="3.5" fill="#000"/>
<rect x="301" y="537.0" width="1" height="3.5" fill="#000"/>
<rect x="335" y="537.0" width="1" height="3.5" fill="#000"/>
<rect x="370" y="537.0" width="1" height="3.5" fill="#000"/>
<rect x="404" y="537.0" width="1" height="3.5" fill="#000"/>
<rect x="439" y="537.0" width="1" height="3.5" fill="#000"/>
<rect x="474" y="537.0" width="1" height="3.5" fill="#000"/>
<rect x="508" y="537.0" width="1" height="3.5" fill="#000"/>
<rect x="543" y="537.0" width="1" height="3.5" fill="#000"/>
<rect x="577" y="537.0" width="1" height="3.5" fill="#000"/>
<rect x="612" y="537.0" width="1" height="3.5" fill="#000"/>
<text x="49.4" y="338.0" font-size="10.67" text-anchor="end">25000</text>
<text x="653.7" y="338.0" font-size="10.67" text-anchor="start" textLength="31.0" lengthAdjust="spacingAndGlyphs">500.0</text>
<text x="49.4" y="358.0" font-size="10.67" text-anchor="end">22500</text>
<text x="653.7" y="358.0" font-size="10.67" text-anchor="start" textLength="31.0" lengthAdjust="spacingAndGlyphs">450.0</text>
<text x="49.4" y="379.0" font-size="10.67" text-anchor="end">20000</text>
<text x="653.7" y="379.0" font-size="10.67" text-anchor="start" textLength="31.0" lengthAdjust="spacingAndGlyphs">400.0</text>
<text x="49.4" y="400.0" font-size="10.67" text-anchor="end">17500</text>
<text x="653.7" y="400.0" font-size="10.67" text-anchor="start" textLength="31.0" lengthAdjust="spacingAndGlyphs">350.0</text>
<text x="49.4" y="420.0" font-size="10.67" text-anchor="end">15000</text>
<text x="653.7" y="420.0" font-size="10.67" text-anchor="start" textLength="31.0" lengthAdjust="spacingAndGlyphs">300.0</text>
<text x="49.4" y="441.0" font-size="10.67" text-anchor="end">12500</text>
<text x="653.7" y="441.0" font-size="10.67" text-anchor="start" textLength="31.0" lengthAdjust="spacingAndGlyphs">250.0</text>
<text x="49.4" y="462.0" font-size="10.67" text-anchor="end">10000</text>
<text x="653.7" y="462.0" font-size="10.67" text-anchor="start" textLength="31.0" lengthAdjust="spacingAndGlyphs">200.0</text>
<text x="49.4" y="482.0" font-size="10.67" text-anchor="end">7500</text>
<text x="653.7" y="482.0" font-size="10.67" text-anchor="start" textLength="31.0" lengthAdjust="spacingAndGlyphs">150.0</text>
<text x="49.4" y="503.0" font-size="10.67" text-anchor="end">5000</text>
<text x="653.7" y="503.0" font-size="10.67" text-anchor="start" textLength="31.0" lengthAdjust="spacingAndGlyphs">100.0</text>
<text x="49.4" y="524.0" font-size="10.67" text-anchor="end">2500</text>
<text x="653.7" y="524.0" font-size="10.67" text-anchor="start" textLength="24.2" lengthAdjust="spacingAndGlyphs">50.0</text>
<text x="49.4" y="544.0" font-size="10.67" text-anchor="end">0</text>
<text x="653.7" y="544.0" font-size="10.67" text-anchor="start" textLength="17.5" lengthAdjust="spacingAndGlyphs">0.0</text>
<text x="61.2" y="559.6" font-size="10.67" text-anchor="middle" textLength="31.3" lengthAdjust="spacingAndGlyphs">22/01</text>
<text x="95.2" y="559.6" font-size="10.67" text-anchor="middle" textLength="31.3" lengthAdjust="spacingAndGlyphs">22/04</text>
<text x="130.2" y="559.6" font-size="10.67" text-anchor="middle" textLength="31.3" lengthAdjust="spacingAndGlyphs">22/07</text>
<text x="164.2" y="559.6" font-size="10.67" text-anchor="middle" textLength="31.3" lengthAdjust="spacingAndGlyphs">22/10</text>
<text x="199.2" y="559.6" font-size="10.67" text-anchor="middle" textLength="31.3" lengthAdjust="spacingAndGlyphs">23/01</text>
<text x="234.2" y="559.6" font-size="10.67" text-anchor="middle" textLength="31.3" lengthAdjust="spacingAndGlyphs">23/04</text>
<text x="268.2" y="559.6" font-size="10.67" text-anchor="middle" textLength="31.3" lengthAdjust="spacingAndGlyphs">23/07</text>
<text x="303.2" y="559.6" font-size="10.67" text-anchor="middle" textLength="31.3" lengthAdjust="spacingAndGlyphs">23/10</text>
<text x="337.2" y="559.6" font-size="10.67" text-anchor="middle" textLength="31.3" lengthAdjust="spacingAndGlyphs">24/01</text>
<text x="372.2" y="559.6" font-size="10.67" text-anchor="middle" textLength="31.3" lengthAdjust="spacingAndGlyphs">24/04</text>
<text x="406.2" y="559.6" font-size="10.67" text-anchor="middle" textLength="31.3" lengthAdjust="spacingAndGlyphs">24/07</text>
<text x="441.2" y="559.6" font-size="10.67" text-anchor="middle" textLength="31.3" lengthAdjust="spacingAndGlyphs">24/10</text>
<text x="476.2" y="559.6" font-size="10.67" text-anchor="middle" textLength="31.3" lengthAdjust="spacingAndGlyphs">25/01</text>
<text x="510.2" y="559.6" font-size="10.67" text-anchor="middle" textLength="31.3" lengthAdjust="spacingAndGlyphs">25/04</text>
<text x="545.2" y="559.6" font-size="10.67" text-anchor="middle" textLength="31.3" lengthAdjust="spacingAndGlyphs">25/07</text>
<text x="579.2" y="559.6" font-size="10.67" text-anchor="middle" textLength="31.3" lengthAdjust="spacingAndGlyphs">25/10</text>
<text x="614.2" y="559.6" font-size="10.67" text-anchor="middle" textLength="31.3" lengthAdjust="spacingAndGlyphs">26/01</text>
<rect x="409.5" y="341.5" width="175" height="19" fill="#fff" stroke="#000" stroke-width="1"/>
<rect x="434.5" y="349.5" width="21.5" height="2" fill="#FF00FF"/>
<text x="456.5" y="354.5" font-size="10.67" text-anchor="start" textLength="21.5" lengthAdjust="spacingAndGlyphs">在庫</text>
<rect x="502" y="349.5" width="21.5" height="2" fill="#000080"/>
<text x="523.5" y="354.5" font-size="10.67" text-anchor="start" textLength="39.5" lengthAdjust="spacingAndGlyphs">東京ゴム</text>
</g>
<g id="chart-bottom">
<rect x="58.5" y="618" width="585.0" height="1" fill="#C0C0C0"/>
<rect x="58.5" y="639" width="585.0" height="1" fill="#C0C0C0"/>
<rect x="58.5" y="660" width="585.0" height="1" fill="#C0C0C0"/>
<rect x="58.5" y="680" width="585.0" height="1" fill="#C0C0C0"/>
<rect x="58.5" y="701" width="585.0" height="1" fill="#C0C0C0"/>
<rect x="58.5" y="722" width="585.0" height="1" fill="#C0C0C0"/>
<rect x="58.5" y="742" width="585.0" height="1" fill="#C0C0C0"/>
<rect x="58.5" y="763" width="585.0" height="1" fill="#C0C0C0"/>
<rect x="58.5" y="784" width="585.0" height="1" fill="#C0C0C0"/>
<rect x="107" y="598.5" width="1" height="206.0" fill="#C0C0C0"/>
<rect x="156" y="598.5" width="1" height="206.0" fill="#C0C0C0"/>
<rect x="206" y="598.5" width="1" height="206.0" fill="#C0C0C0"/>
<rect x="255" y="598.5" width="1" height="206.0" fill="#C0C0C0"/>
<rect x="304" y="598.5" width="1" height="206.0" fill="#C0C0C0"/>
<rect x="354" y="598.5" width="1" height="206.0" fill="#C0C0C0"/>
<rect x="403" y="598.5" width="1" height="206.0" fill="#C0C0C0"/>
<rect x="452" y="598.5" width="1" height="206.0" fill="#C0C0C0"/>
<rect x="502" y="598.5" width="1" height="206.0" fill="#C0C0C0"/>
<rect x="551" y="598.5" width="1" height="206.0" fill="#C0C0C0"/>
<rect x="600" y="598.5" width="1" height="206.0" fill="#C0C0C0"/>
<polyline points="58.6,708.09 75.08,708.09 93.2,710.64 109.68,711.63 126.15,710.92 139.33,707.81 155.81,707.81 172.28,707.67 190.41,707.38 206.88,705.97 223.36,704.98 239.84,708.51 256.31,710.54 272.79,713.93 290.91,713.65 307.39,718.32 323.86,722.84 340.34,727.09 356.82,732.84 373.29,736.38 391.42,737.79 407.89,735.67 424.37,734.26 442.49,736.76 458.97,738.6 475.44,737.19 491.92,736.76 508.39,738.88 524.87,738.18 542.99,738.73 559.47,736.69 575.95,736.35 592.42,737.54 608.9,738.39 625.37,730.75 643.5,724.8" fill="none" stroke="#00FFFF" stroke-width="1.75" stroke-linejoin="round"/>
<polyline points="58.6,725.77 75.08,719.41 93.2,707.81 109.68,700.31 126.15,697.48 139.33,693.24 155.81,694.94 172.28,694.37 190.41,685.46 206.88,685.88 223.36,682.35 239.84,678.1 256.31,675.46 272.79,667.26 290.91,674.47 307.39,676.17 323.86,675.18 340.34,678.01 356.82,680.51 373.29,686.87 391.42,689.28 407.89,692.25 424.37,694.23 442.49,703.95 458.97,713.85 475.44,716.68 491.92,726.29 508.39,738.6 524.87,744.26 542.99,746.54 559.47,750.27 575.95,754.52 592.42,754.18 608.9,751.97 625.37,739.24 643.5,732.78" fill="none" stroke="#259157" stroke-width="1.75" stroke-linejoin="round"/>
<polyline points="58.6,732.84 75.08,728.32 93.2,721.1 109.68,718.7 126.15,716.58 139.33,709.22 155.81,709.08 172.28,708.8 190.41,700.03 206.88,700.74 223.36,698.9 239.84,699.6 256.31,700.5 272.79,702.62 290.91,705.59 307.39,714.78 323.86,720.44 340.34,727.79 356.82,735.25 373.29,737.09 391.42,742.04 407.89,746.56 424.37,745.15 442.49,743.55 458.97,745.67 475.44,742.84 491.92,744.96 508.39,749.21 524.87,751.05 542.99,747.72 559.47,757.06 575.95,760.46 592.42,762.67 608.9,762.16 625.37,755.7 643.5,756.55" fill="none" stroke="#99CC00" stroke-width="1.75" stroke-linejoin="round"/>
<polyline points="58.6,757.17 75.08,754.06 93.2,752.22 109.68,748.83 126.15,746.28 139.33,746.56 155.81,747.69 172.28,746.28 190.41,746.99 206.88,748.4 223.36,746.99 239.84,742.46 256.31,741.23 272.79,735.29 290.91,728.22 307.39,734.44 323.86,736.56 340.34,737.69 356.82,740.91 373.29,741.33 391.42,746.28 407.89,749.39 424.37,748.4 442.49,749.92 458.97,754.44 475.44,756.0 491.92,756.28 508.39,756.28 524.87,754.44 542.99,751.12 559.47,755.37 575.95,762.16 592.42,764.19 608.9,771.83 625.37,771.83 643.5,770.14" fill="none" stroke="#800080" stroke-width="1.75" stroke-linejoin="round"/>
<polyline points="58.6,767.5 75.08,764.24 93.2,762.12 109.68,762.55 126.15,766.51 139.33,762.55 155.81,759.43 172.28,751.23" fill="none" stroke="#E07828" stroke-width="2.5" stroke-linejoin="round"/>
<rect x="58.0" y="598.0" width="586.0" height="1" fill="#000"/>
<rect x="58.0" y="804.0" width="586.0" height="1" fill="#000"/>
<rect x="58.0" y="598.0" width="1" height="207.0" fill="#000"/>
<rect x="643.0" y="598.0" width="1" height="207.0" fill="#000"/>
<rect x="58.5" y="618" width="3.5" height="1" fill="#000"/>
<rect x="58.5" y="639" width="3.5" height="1" fill="#000"/>
<rect x="58.5" y="660" width="3.5" height="1" fill="#000"/>
<rect x="58.5" y="680" width="3.5" height="1" fill="#000"/>
<rect x="58.5" y="701" width="3.5" height="1" fill="#000"/>
<rect x="58.5" y="722" width="3.5" height="1" fill="#000"/>
<rect x="58.5" y="742" width="3.5" height="1" fill="#000"/>
<rect x="58.5" y="763" width="3.5" height="1" fill="#000"/>
<rect x="58.5" y="784" width="3.5" height="1" fill="#000"/>
<rect x="107" y="801.0" width="1" height="3.5" fill="#000"/>
<rect x="156" y="801.0" width="1" height="3.5" fill="#000"/>
<rect x="206" y="801.0" width="1" height="3.5" fill="#000"/>
<rect x="255" y="801.0" width="1" height="3.5" fill="#000"/>
<rect x="304" y="801.0" width="1" height="3.5" fill="#000"/>
<rect x="354" y="801.0" width="1" height="3.5" fill="#000"/>
<rect x="403" y="801.0" width="1" height="3.5" fill="#000"/>
<rect x="452" y="801.0" width="1" height="3.5" fill="#000"/>
<rect x="502" y="801.0" width="1" height="3.5" fill="#000"/>
<rect x="551" y="801.0" width="1" height="3.5" fill="#000"/>
<rect x="600" y="801.0" width="1" height="3.5" fill="#000"/>
<text x="44.3" y="602.0" font-size="10.67" text-anchor="end">25,000</text>
<text x="44.3" y="622.0" font-size="10.67" text-anchor="end">22,500</text>
<text x="44.3" y="643.0" font-size="10.67" text-anchor="end">20,000</text>
<text x="44.3" y="664.0" font-size="10.67" text-anchor="end">17,500</text>
<text x="44.3" y="684.0" font-size="10.67" text-anchor="end">15,000</text>
<text x="44.3" y="705.0" font-size="10.67" text-anchor="end">12,500</text>
<text x="44.3" y="726.0" font-size="10.67" text-anchor="end">10,000</text>
<text x="44.3" y="746.0" font-size="10.67" text-anchor="end">7,500</text>
<text x="44.3" y="767.0" font-size="10.67" text-anchor="end">5,000</text>
<text x="44.3" y="788.0" font-size="10.67" text-anchor="end">2,500</text>
<text x="44.3" y="808.0" font-size="10.67" text-anchor="end">0</text>
<text x="59.1" y="827.8" font-size="12" text-anchor="middle">1月</text>
<text x="108.1" y="827.8" font-size="12" text-anchor="middle">2月</text>
<text x="157.1" y="827.8" font-size="12" text-anchor="middle">3月</text>
<text x="207.1" y="827.8" font-size="12" text-anchor="middle">4月</text>
<text x="256.1" y="827.8" font-size="12" text-anchor="middle">5月</text>
<text x="305.1" y="827.8" font-size="12" text-anchor="middle">6月</text>
<text x="355.1" y="827.8" font-size="12" text-anchor="middle">7月</text>
<text x="404.1" y="827.8" font-size="12" text-anchor="middle">8月</text>
<text x="453.1" y="827.8" font-size="12" text-anchor="middle">9月</text>
<text x="503.1" y="827.8" font-size="12" text-anchor="middle">10月</text>
<text x="552.1" y="827.8" font-size="12" text-anchor="middle">11月</text>
<text x="601.1" y="827.8" font-size="12" text-anchor="middle">12月</text>
<rect x="351.5" y="606.5" width="234" height="33.5" fill="#fff" stroke="#000" stroke-width="1"/>
<rect x="361" y="614" width="21" height="2" fill="#00FFFF"/>
<text x="383" y="619" font-size="10.67" text-anchor="start" textLength="37" lengthAdjust="spacingAndGlyphs">2022年</text>
<rect x="439.5" y="614" width="21.0" height="2" fill="#259157"/>
<text x="461.5" y="619" font-size="10.67" text-anchor="start" textLength="37" lengthAdjust="spacingAndGlyphs">2023年</text>
<rect x="517.5" y="614" width="21.0" height="2" fill="#99CC00"/>
<text x="539.5" y="619" font-size="10.67" text-anchor="start" textLength="37" lengthAdjust="spacingAndGlyphs">2024年</text>
<rect x="361" y="631" width="21" height="2" fill="#800080"/>
<text x="383" y="636" font-size="10.67" text-anchor="start" textLength="37" lengthAdjust="spacingAndGlyphs">2025年</text>
<rect x="438.3" y="630.5" width="22.2" height="3" fill="#E07828"/>
<text x="461.5" y="636.0" font-size="10.67" text-anchor="start" textLength="37" lengthAdjust="spacingAndGlyphs">2026年</text>
</g>
</svg>
</body></html>
